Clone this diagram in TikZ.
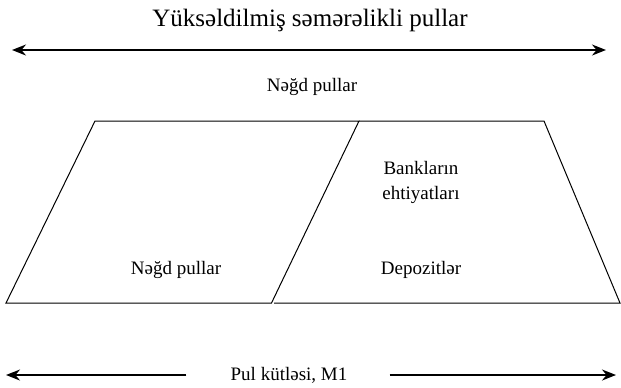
\documentclass[tikz,border=0pt]{standalone}
\usepackage{fontspec}
\setmainfont{Liberation Serif}
\usepackage{tikz}
\usetikzlibrary{arrows.meta, calc}

\begin{document}
\begin{tikzpicture}[
    x=0.5pt, y=-0.5pt,
    font=\fontsize{9.5}{12.5}\selectfont,
    label/.style={inner sep=1pt, align=center},
    head/.style={inner sep=1pt, font=\fontsize{12.5}{15}\selectfont},
    span/.style={{Stealth[length=7pt,width=5.5pt]}-{Stealth[length=7pt,width=5.5pt]}, line width=0.8pt},
    half/.style={-{Stealth[length=7pt,width=5.5pt]}, line width=0.8pt},
    part/.style={draw, line width=0.5pt, line join=miter},
  ]
  \useasboundingbox (0,0) rectangle (621,387);
  % top
  \node[head] (title) at (310,20) {Yüksəldilmiş səmərəlikli pullar};
  \coordinate (topL) at (12,50);
  \coordinate (topR) at (606,50);
  \draw[span] (topL) -- (topR);
  \node[label] (cashtop) at (312,87) {Nəğd pullar};
  % the two parts
  \coordinate (a1) at (95,121);
  \coordinate (a2) at (359,121);
  \coordinate (a3) at (271.5,303);
  \coordinate (a4) at (6,303);
  \coordinate (b2) at (544,121);
  \coordinate (b3) at (620,303);
  \coordinate (b4) at (274,303);
  \draw[part] (a1) -- (a2) -- (a3) -- (a4) -- cycle;
  \draw[part] (a2) -- (b2) -- (b3) -- (b4);
  \node[label] (reserves) at (421,182) {Bankların\\ehtiyatları};
  \node[label] (cash) at (176,270) {Nəğd pullar};
  \node[label] (deposits) at (421,270) {Depozitlər};
  % bottom
  \node[label] (money) at (289,375) {Pul kütləsi, M1};
  \coordinate (botL) at (6,375);
  \coordinate (botR) at (616,375);
  \draw[half] ($(money.west)+(-42,0)$) -- (botL);
  \draw[half] ($(money.east)+(40,0)$) -- (botR);
\end{tikzpicture}
\end{document}
